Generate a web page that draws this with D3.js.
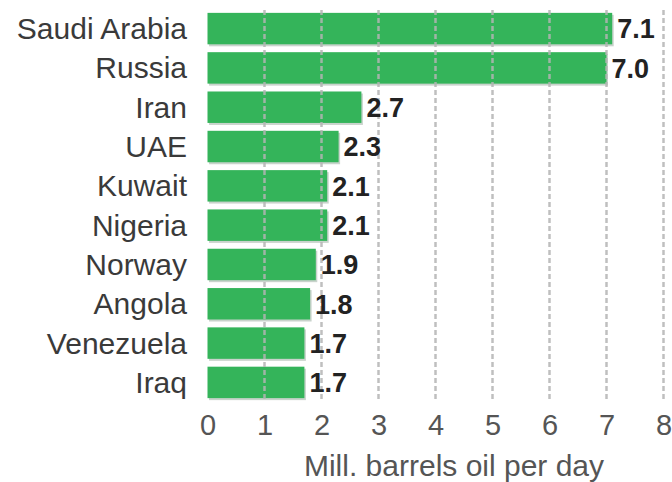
<!DOCTYPE html>
<html>
<head>
<meta charset="utf-8">
<script src="https://cdn.jsdelivr.net/npm/d3@7"></script>
<style>
  html, body { margin: 0; padding: 0; background: #fff; }
  svg { display: block; }
  text { font-family: "Liberation Sans", Arial, sans-serif; }
</style>
</head>
<body>
<svg id="chart" width="672" height="482"></svg>
<script>
// Crude oil exports by country, million barrels per day
const countries = ["Saudi Arabia", "Russia", "Iran", "UAE", "Kuwait", "Nigeria", "Norway", "Angola", "Venezuela", "Iraq"];
const exportsMbd = [7.1, 7.0, 2.7, 2.3, 2.1, 2.1, 1.9, 1.8, 1.7, 1.7];
const xTicks = [0, 1, 2, 3, 4, 5, 6, 7, 8];
const axisTitle = "Mill. barrels oil per day";

const data = countries.map((c, i) => ({ country: c, value: exportsMbd[i] }));

const svg = d3.select("#chart");

const x = d3.scaleLinear().domain([0, 8]).range([207.5, 663.5]);
const y = d3.scaleBand().domain(countries).range([5, 406]).padding(0.2);

// bar shadows
svg.append("g").selectAll("rect")
  .data(data).join("rect")
  .attr("x", x(0) + 1.5)
  .attr("y", d => y(d.country) + 2)
  .attr("width", d => x(d.value) - x(0))
  .attr("height", y.bandwidth())
  .attr("fill", "#c9d3cc");

// bars
svg.append("g").selectAll("rect")
  .data(data).join("rect")
  .attr("x", x(0))
  .attr("y", d => y(d.country))
  .attr("width", d => x(d.value) - x(0))
  .attr("height", y.bandwidth())
  .attr("fill", "#34b45a");

// dashed vertical gridlines, drawn over the bars
svg.append("g").selectAll("line")
  .data(xTicks.filter(t => t > 0)).join("line")
  .attr("x1", d => x(d)).attr("x2", d => x(d))
  .attr("y1", 10).attr("y2", 399)
  .attr("stroke", "#b4b4b4")
  .attr("stroke-opacity", 0.85)
  .attr("stroke-width", 2.5)
  .attr("stroke-dasharray", "5,3");

// category labels
svg.append("g").selectAll("text")
  .data(data).join("text")
  .attr("x", 187)
  .attr("y", d => y(d.country) + y.bandwidth() / 2)
  .attr("dy", "0.35em")
  .attr("text-anchor", "end")
  .attr("font-size", 30)
  .attr("fill", "#3a3a3a")
  .text(d => d.country);

// value labels
svg.append("g").selectAll("text")
  .data(data).join("text")
  .attr("x", d => x(d.value) + 5)
  .attr("y", d => y(d.country) + y.bandwidth() / 2)
  .attr("dy", "0.36em")
  .attr("font-size", 27)
  .attr("font-weight", "bold")
  .attr("fill", "#222")
  .text(d => d3.format(".1f")(d.value));

// x axis
const xAxis = svg.append("g")
  .attr("transform", "translate(0,407)")
  .call(d3.axisBottom(x).tickValues(xTicks).tickSize(0).tickPadding(0).tickFormat(d3.format("d")));
xAxis.select(".domain").remove();
xAxis.selectAll("text")
  .attr("font-family", "Liberation Sans, Arial, sans-serif")
  .attr("font-size", 29)
  .attr("fill", "#555")
  .attr("dy", "0.95em");

// axis title
svg.append("text")
  .attr("x", 454)
  .attr("y", 476)
  .attr("text-anchor", "middle")
  .attr("font-size", 30)
  .attr("fill", "#555")
  .text(axisTitle);
</script>
</body>
</html>
